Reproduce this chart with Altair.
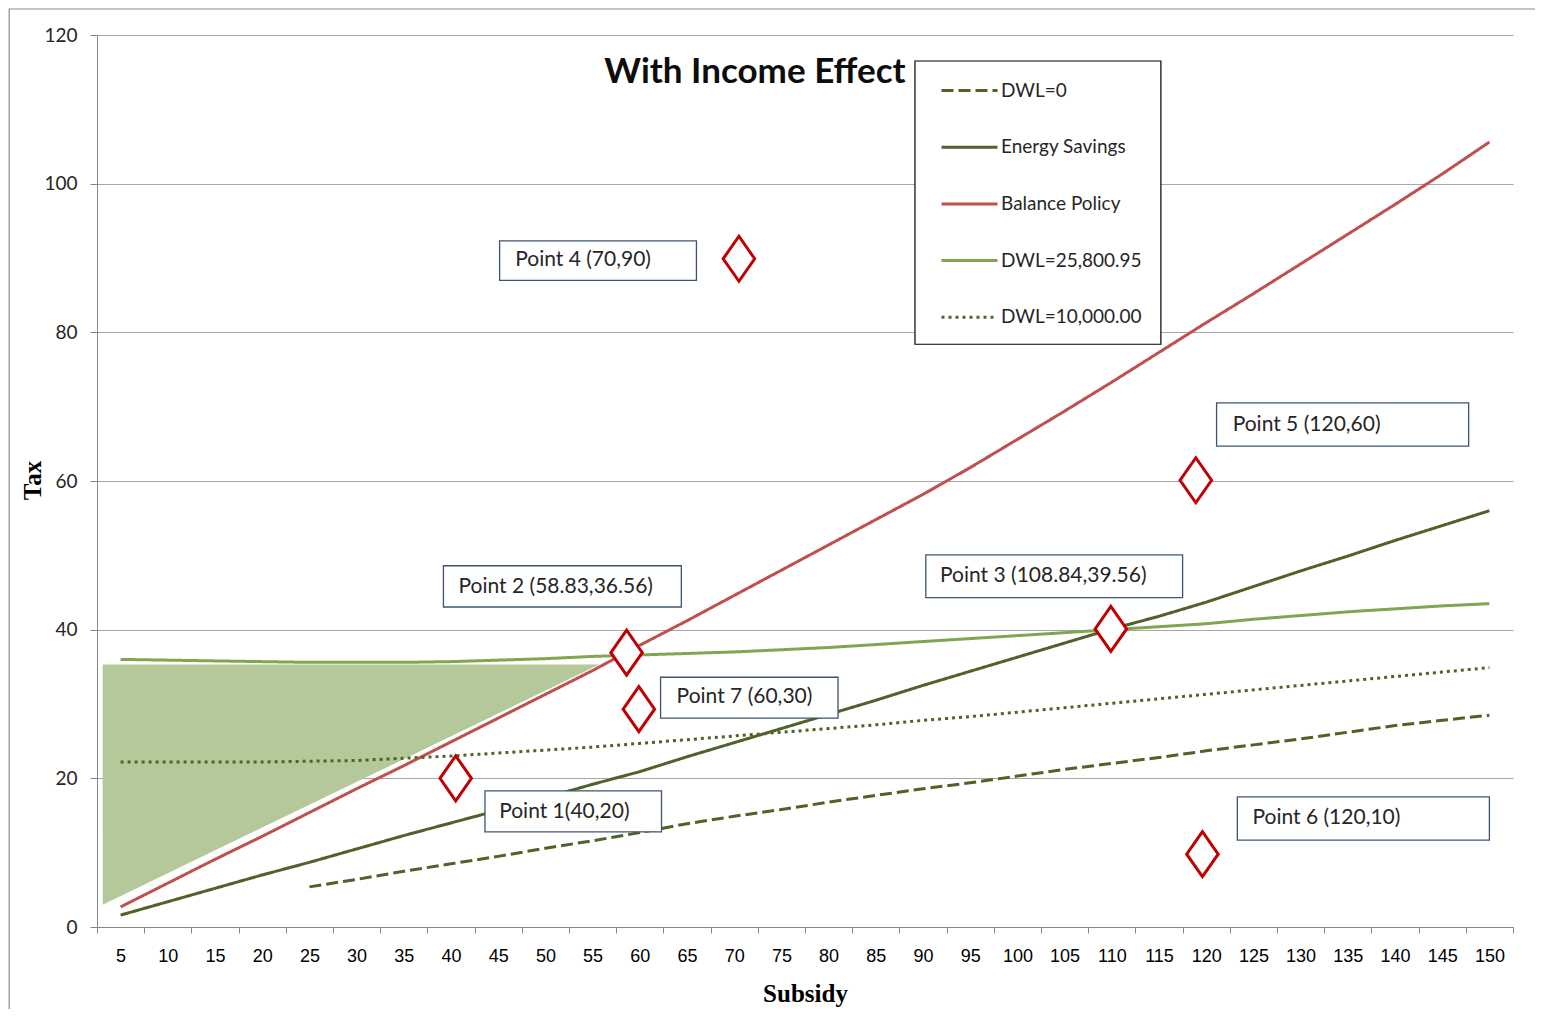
import altair as alt
import pandas as pd

# ---------------- data ----------------
subsidy = list(range(5, 155, 5))
balance_policy = [2.7, 5.9, 9.1, 12.2, 15.4, 18.6, 21.7, 24.9, 28.1, 31.3, 34.5, 37.9, 41.2, 44.6, 48.0,
                  51.4, 54.8, 58.2, 61.8, 65.6, 69.4, 73.3, 77.3, 81.3, 85.2, 89.2, 93.2, 97.2, 101.3, 105.6]
energy_savings = [1.6, 3.4, 5.2, 7.0, 8.7, 10.5, 12.3, 14.0, 15.7, 17.4, 19.2, 20.9, 22.9, 24.8, 26.7,
                  28.6, 30.5, 32.5, 34.4, 36.3, 38.2, 40.1, 41.8, 43.7, 45.8, 47.9, 49.9, 52.0, 54.0, 56.0]
dwl_25800 = [36.0, 35.9, 35.8, 35.7, 35.6, 35.6, 35.6, 35.7, 35.9, 36.1, 36.4, 36.6, 36.8, 37.0, 37.3,
             37.6, 38.0, 38.4, 38.8, 39.2, 39.6, 40.0, 40.4, 40.8, 41.4, 41.9, 42.4, 42.8, 43.2, 43.5]
dwl_10000 = [22.2, 22.2, 22.2, 22.2, 22.3, 22.4, 22.7, 23.0, 23.4, 23.8, 24.2, 24.7, 25.2, 25.7, 26.2,
             26.7, 27.2, 27.8, 28.3, 28.9, 29.5, 30.1, 30.7, 31.3, 31.9, 32.5, 33.1, 33.7, 34.3, 34.9]
dwl0_subsidy = list(range(25, 155, 5))
dwl_0 = [5.4, 6.4, 7.5, 8.5, 9.5, 10.6, 11.6, 12.7, 13.9, 14.9, 15.8, 16.8, 17.7, 18.6, 19.4, 20.3,
         21.2, 22.0, 22.8, 23.7, 24.5, 25.3, 26.2, 27.1, 27.8, 28.5]

series_order = ["DWL=0", "Energy Savings", "Balance Policy", "DWL=25,800.95", "DWL=10,000.00"]
series_colors = ["#4F6228", "#4F6228", "#C0504D", "#7FA650", "#4F6228"]
series_dashes = [[12, 5], [1, 0], [1, 0], [1, 0], [3, 4]]

# shaded region (subsidy, upper tax, lower tax)
shade_x = [3.1, 55.7]
shade_top = [35.3, 35.3]
shade_bottom = [3.0, 35.3]

# labelled points
point_x = [40.5, 58.6, 109.9, 70.5, 118.9, 119.6, 59.9]
point_y = [20.0, 36.9, 40.1, 89.9, 60.1, 9.8, 29.3]

# callout boxes (data coordinates)
box_text = ["Point 1(40,20)", "Point 2 (58.83,36.56)", "Point 3 (108.84,39.56)", "Point 4 (70,90)",
            "Point 5 (120,60)", "Point 6 (120,10)", "Point 7 (60,30)"]
box_x1 = [43.6, 39.2, 90.3, 45.15, 121.1, 123.3, 62.2]
box_x2 = [62.3, 64.4, 117.5, 66.0, 147.8, 150.0, 81.0]
box_y1 = [18.3, 48.6, 50.05, 92.3, 70.5, 17.5, 33.6]
box_y2 = [12.8, 43.05, 44.3, 87.0, 64.7, 11.7, 28.1]
box_tx = [45.1, 40.8, 91.8, 46.8, 122.8, 124.9, 63.9]
box_ty = [15.5, 45.8, 47.2, 89.7, 67.6, 14.6, 30.9]

title_text = ["With Income Effect"]
title_x = [72.2]
title_y = [115.0]

# legend frame and outer chart frame (data coordinates)
frame_x = [-6.8, 89.15]
frame_x2 = [157.0, 115.2]
frame_y = [123.5, 116.5]
frame_y2 = [-14.0, 78.4]
frame_kind = ["outer", "legend"]

x_edges = [2.5 + 5 * i for i in range(31)]

# ---------------- tables ----------------
rows = []
for name, xs, ys in [("Balance Policy", subsidy, balance_policy),
                     ("Energy Savings", subsidy, energy_savings),
                     ("DWL=25,800.95", subsidy, dwl_25800),
                     ("DWL=10,000.00", subsidy, dwl_10000),
                     ("DWL=0", dwl0_subsidy, dwl_0)]:
    for xv, yv in zip(xs, ys):
        rows.append({"series": name, "Subsidy": xv, "Tax": yv})
lines_df = pd.DataFrame(rows)
shade_df = pd.DataFrame({"x": shade_x, "top": shade_top, "bottom": shade_bottom})
points_df = pd.DataFrame({"x": point_x, "y": point_y})
boxes_df = pd.DataFrame({"text": box_text, "x1": box_x1, "x2": box_x2, "y1": box_y1, "y2": box_y2,
                         "tx": box_tx, "ty": box_ty})
title_df = pd.DataFrame({"text": title_text, "x": title_x, "y": title_y})
frame_df = pd.DataFrame({"x": frame_x, "x2": frame_x2, "y": frame_y, "y2": frame_y2, "kind": frame_kind})

xscale = alt.Scale(domain=[2.5, 152.5], nice=False, zero=False)
yscale = alt.Scale(domain=[0, 120], nice=False)

x_axis = alt.Axis(
    values=x_edges,
    labelExpr="datum.value < 150 ? format(datum.value + 2.5, 'd') : ''",
    labelOffset=23.6, labelFlush=False, labelOverlap=False,
    labelFont="Liberation Sans", labelFontSize=18, labelColor="#000000",
    labelPadding=14, tickSize=6, tickColor="#868686", domainColor="#868686",
    grid=False, title="Subsidy", titleFont="Liberation Serif", titleFontSize=25,
    titleFontWeight="bold", titleColor="#000000",
    titleX=708, titleY=66, titleBaseline="middle", titleAlign="center",
)
y_axis = alt.Axis(
    values=[0, 20, 40, 60, 80, 100, 120], labelFont="Lato", labelFontSize=19, labelColor="#262626",
    labelPadding=13, tickSize=7, tickColor="#868686", domainColor="#868686",
    grid=True, gridColor="#A6A6A6", gridWidth=1,
    title="Tax", titleFont="Liberation Serif", titleFontSize=25, titleFontWeight="bold",
    titleColor="#000000", titleX=-65, titleY=445, titleAngle=270,
    titleBaseline="middle", titleAlign="center",
)

legend = alt.Legend(
    title=None, orient="none", legendX=843, legendY=26, padding=0,
    symbolType="stroke", symbolSize=3136, symbolStrokeWidth=3,
    labelFont="Lato", labelFontSize=19, labelColor="#262626", labelOffset=2,
    rowPadding=16.7, labelLimit=300,
)

X = lambda f: alt.X(f, scale=xscale, axis=x_axis)
Y = lambda f: alt.Y(f, scale=yscale, axis=y_axis)

frame = alt.Chart(frame_df).mark_rect(fill="white", strokeWidth=1.2).encode(
    x=X("x:Q"), x2="x2:Q", y=Y("y:Q"), y2="y2:Q",
    stroke=alt.Stroke("kind:N", scale=alt.Scale(domain=["outer", "legend"], range=["#8C8C8C", "#000000"]),
                      legend=None),
    fillOpacity=alt.FillOpacity("kind:N", scale=alt.Scale(domain=["outer", "legend"], range=[0, 1]),
                                legend=None),
)

shade = alt.Chart(shade_df).mark_area(color="#B4C89A", opacity=1).encode(
    x=X("x:Q"), y=Y("top:Q"), y2="bottom:Q",
)

lines = alt.Chart(lines_df).mark_line(strokeWidth=3).encode(
    x=X("Subsidy:Q"),
    y=Y("Tax:Q"),
    color=alt.Color("series:N", scale=alt.Scale(domain=series_order, range=series_colors),
                    legend=legend, sort=series_order),
    strokeDash=alt.StrokeDash("series:N", scale=alt.Scale(domain=series_order, range=series_dashes),
                              legend=legend, sort=series_order),
    order="Subsidy:Q",
)

diamonds = alt.Chart(points_df).mark_point(
    shape="M0,-1L0.7,0L0,1L-0.7,0Z", size=2025, filled=True, fill="white",
    stroke="#C00000", strokeWidth=3, opacity=1,
).encode(x=X("x:Q"), y=Y("y:Q"))

boxes = alt.Chart(boxes_df).mark_rect(fill="white", stroke="#3F5470", strokeWidth=1.3).encode(
    x=X("x1:Q"), x2="x2:Q", y=Y("y1:Q"), y2="y2:Q",
)
box_labels = alt.Chart(boxes_df).mark_text(
    align="left", baseline="middle", font="Lato", fontSize=21, color="#262626"
).encode(x=X("tx:Q"), y=Y("ty:Q"), text="text:N")

title = alt.Chart(title_df).mark_text(
    align="center", baseline="middle", font="Lato", fontSize=35, fontWeight="bold", color="#0D0D0D"
).encode(x=X("x:Q"), y=Y("y:Q"), text="text:N")

chart = alt.layer(shade, lines, diamonds, boxes, box_labels, title, frame).properties(
    width=1416, height=892,
    autosize=alt.AutoSizeParams(type="none"),
    padding={"left": 89, "top": 27, "right": 22, "bottom": 82},
).configure(background="white", view=alt.ViewConfig(strokeWidth=0))

chart.save("out.html", embed_options={"renderer": "svg", "actions": False})
